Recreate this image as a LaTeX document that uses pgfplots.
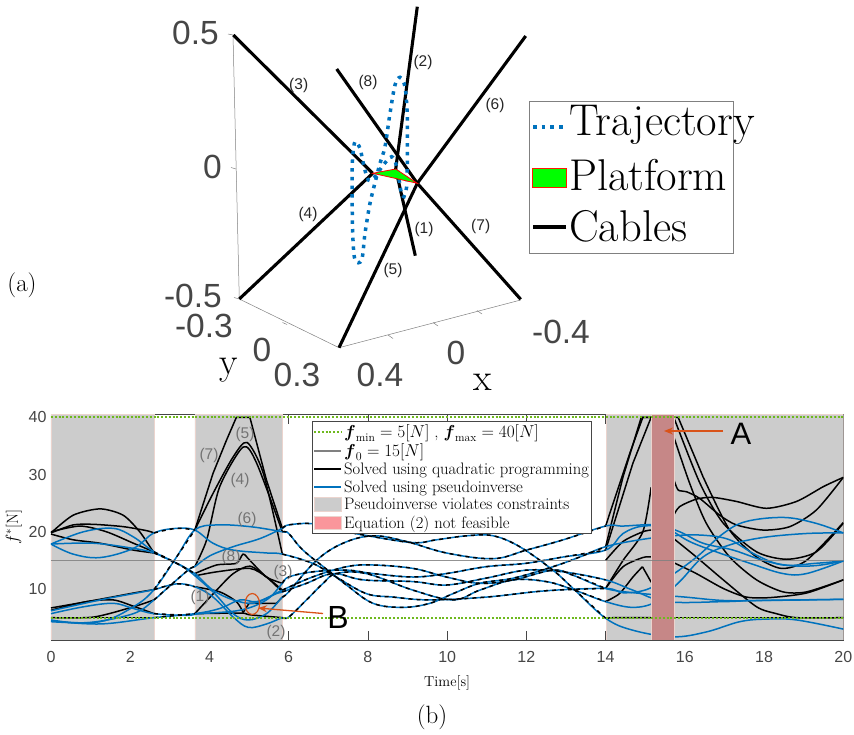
\documentclass[border=0pt]{standalone}
\usepackage{amsmath}
\usepackage{fontspec}
\usepackage{pgfplots}
\pgfplotsset{compat=1.18}
\usepackage{pgfplotstable}
\usetikzlibrary{arrows.meta}
\newfontfamily\arial{Liberation Sans}
\definecolor{mblue}{RGB}{0,114,189}
\definecolor{morange}{RGB}{217,83,25}
\definecolor{mgreen}{RGB}{110,185,30}
\definecolor{f0gray}{RGB}{128,128,128}
\definecolor{grayband}{RGB}{204,204,204}
\definecolor{redband}{RGB}{198,135,135}
\definecolor{redpatch}{RGB}{250,150,155}
\definecolor{axgray}{RGB}{70,70,70}
\definecolor{rim}{RGB}{235,212,206}

\pgfplotstableread{
t f
0 17.85
.56 16.1
1.24 15.5
2.08 17.1
2.6 19.8
3.17 20.6
3.63 20.3
4.09 18.0
4.6 16.8
5.44 16.3
5.84 16.1
6.6 14.5
7.2 12.1
7.96 9.2
8.63 8.6
9.56 8.1
11 8.6
12.5 9.7
14 10.1
14.44 9.35
15.03 9.9
15.6 12.1
16.3 15.6
16.97 19.7
17.55 21.8
18.5 22.5
19.3 21.5
20 19.8
}\blueA
\pgfplotstableread{
t f
0 17.85
.82 20
1.57 20.6
2.08 19.1
2.6 16.5
3.17 14.5
3.63 12.7
4.09 9.8
4.6 8.1
5.1 7.5
5.5 8.6
5.84 9.8
6.6 12.1
7.46 13.9
8.13 14.2
9.14 13.6
9.98 12.1
10.82 11
11.67 11.6
12.67 13.3
13.18 12.4
14 10.1
14.78 9.3
16 8.6
16.97 8
17.98 8
20 8.2
}\blueB
\pgfplotstableread{
t f
0 4.6
.9 4.1
2.08 5.7
2.6 8.1
2.83 9.5
3.46 13.3
3.63 13.9
4.01 15.8
4.6 17.4
5.27 18.8
5.84 20.6
6 21.2
6.6 21.4
7.33 20.2
8 19.3
9.14 18.1
9.73 18.6
10.5 19.3
11.16 19.3
11.83 17.4
12.67 13.3
13.18 10.1
14 4.9
14.69 2.8
15.7 1.65
16.54 2.5
17.39 4.3
18.06 4.75
18.82 4.6
20 3.0
}\blueC
\pgfplotstableread{
t f
0 4.3
1.24 4.3
2.08 6.9
2.6 9.9
3.17 15.6
3.63 20.3
4.18 21.2
5.02 20.9
5.84 20
6 19.7
6.36 16.8
7.04 13
7.46 10.7
8.13 7.5
8.89 6.8
9.56 7.5
10.15 9.2
10.82 11
11.67 11.9
12.67 13.9
13.35 15.6
14 17.4
14.86 18.6
15.7 19.3
16.46 19.4
17.13 18.6
17.81 15.9
18.48 14.2
19.32 14.5
20 14.9
}\blueD
\pgfplotstableread{
t f
0 6.2
1.24 8.1
2.08 9.2
2.6 9.9
3.17 10.9
3.63 10.4
4.09 8.6
4.6 5.1
4.98 3.3
5.44 3.9
5.84 5.0
6 5.1
6.45 8.1
6.87 11
7.2 12.7
7.96 12.7
9.14 9.8
10.15 8.1
10.82 9.8
11.67 11.6
12.5 11.3
13.18 9.9
14 7.8
14.69 6.8
15.28 7.8
15.87 11.3
16.46 15.6
17.13 17.7
17.97 19
19.07 19.7
20 19.8
}\blueE
\pgfplotstableread{
t f
0 17.85
1.07 18
2.08 17.1
2.6 16.3
3.17 14.5
3.46 13.3
4.09 9.5
4.6 5.7
4.98 4.6
5.44 5.7
5.84 8.6
6 9.5
6.7 15
7.37 18
8.13 19.3
8.97 18.3
9.98 16.3
11.16 15.3
12 16.8
12.93 18.6
14 21
14.44 21
15.28 21.2
15.87 20
16.46 18
17.22 16.8
17.98 15
18.65 14.1
19.32 14.1
20 14.9
}\blueF
\pgfplotstableread{
t f
0 5.7
.82 6.9
1.57 7.5
2.08 6.6
2.6 5.7
3.42 5.4
3.76 5.7
4.77 6.3
5.44 8.1
5.84 11
6 12.1
6.6 13
7.46 13.3
8.13 12.7
9.14 12.1
9.98 12.7
10.98 13.9
12 14.5
12.93 15.6
14 16.8
14.44 19.7
14.94 21
15.53 20.6
16.12 18.3
16.79 16.5
17.64 14.5
18.48 12.7
19.07 12.7
20 14.9
}\blueG
\pgfplotstableread{
t f
0 4.45
1.24 3.9
2.6 5
3.63 5.7
4.26 6.6
4.77 8.1
5.19 7.8
5.69 9.2
5.84 9.5
6.45 11
7.12 12.7
7.88 11.6
9.14 11.3
9.98 10.7
10.98 11.9
12 13.3
12.93 13
14 11.6
14.69 9.8
15.53 7.8
16.97 7.8
17.81 8
20 8.2
}\blueH

\pgfplotsset{blk/.style={black, line width=1.5pt, smooth, tension=.45, no markers},
  blks/.style={black, line width=1.5pt, no markers},
  blu/.style={mblue, line width=1.5pt, smooth, tension=.6, no markers},
  dsh/.style={blu, black, line width=1.5pt, dash pattern=on 4pt off 4pt},
  lgreen/.style={legend image code/.code={\draw[color=mgreen, line width=1.8pt, dash pattern=on 2pt off 1.8pt] (0,0) -- (27pt,0);}},
  lgray/.style={legend image code/.code={\draw[color=f0gray, line width=1.5pt] (0,0) -- (27pt,0);}},
  lblack/.style={legend image code/.code={\draw[color=black, line width=1.5pt] (0,0) -- (27pt,0);}},
  lblue/.style={legend image code/.code={\draw[color=mblue, line width=1.5pt] (0,0) -- (27pt,0);}},
  lbox/.style={legend image code/.code={\draw[##1] (0,-6.5pt) rectangle (27pt,7pt);}}}
\tikzset{boxl/.style={gray, line width=.5pt}, cable/.style={black, line width=3.1pt},
  bigt/.style={font=\arial\fontsize{33.5}{36}\selectfont, text=axgray, inner sep=0pt},
  cab/.style={font=\arial\fontsize{15.5}{18}\selectfont, text=black!85, inner sep=0pt},
  cabl/.style={font=\arial\fontsize{15.5}{18}\selectfont, text=black!55, inner sep=0pt},
  leg/.style={anchor=west, font=\fontsize{44.5}{48}\selectfont, inner sep=0pt}}

\begin{document}
\begin{tikzpicture}[x=1pt,y=1pt]
\path[use as bounding box] (0,0) rectangle (854pt,735pt);
% ----- lower panel -----
\begin{axis}[
  at={(51pt,95pt)}, anchor=south west,
  scale only axis, width=792.3pt, height=225.3pt,
  xmin=0, xmax=20, ymin=1.1, ymax=40.45,
  axis line style={axgray, line width=.9pt},
  every tick/.style={axgray, line width=.8pt},
  major tick length=9pt,
  tick align=inside,
  xtick={0,2,...,20}, ytick={10,20,30,40},
  tick label style={font=\arial\fontsize{16}{18}\selectfont, text=axgray},
  xticklabel style={yshift=-8pt},
  yticklabel style={xshift=-1pt},
  /pgf/number format/assume math mode=true,
  xlabel={Time[s]},
  xlabel style={font=\fontsize{14.5}{16}\selectfont, yshift=-6pt},
  ylabel={$f^{*}$[N]},
  ylabel style={font=\fontsize{16}{18}\selectfont, yshift=0pt},
  legend cell align=left,
  legend style={at={(.3294,.972)}, anchor=north west, fill=white, draw=axgray,
    line width=.8pt, font=\fontsize{16.6}{19}\selectfont, row sep=0.7pt,
    inner xsep=1pt, inner ysep=1pt},
  every axis plot/.append style={forget plot},
]
\addlegendimage{lgreen}
\addlegendentry{$\boldsymbol{f}_{\min}=5[N]$ , $\boldsymbol{f}_{\max}=40[N]$}
\addlegendimage{lgray}
\addlegendentry{$\boldsymbol{f}_{0}=15[N]$}
\addlegendimage{lblack}
\addlegendentry{Solved using quadratic programming}
\addlegendimage{lblue}
\addlegendentry{Solved using pseudoinverse}
\addlegendimage{lbox, fill=grayband, draw=rim}
\addlegendentry{Pseudoinverse violates constraints}
\addlegendimage{lbox, fill=redpatch, draw=rim}
\addlegendentry{Equation (2) not feasible}

% gray bands
\addplot[fill=grayband, draw=rim] coordinates {(0,1.1) (2.6,1.1) (2.6,40.45) (0,40.45)} \closedcycle;
\addplot[fill=grayband, draw=rim] coordinates {(3.63,1.1) (5.84,1.1) (5.84,40.45) (3.63,40.45)} \closedcycle;
\addplot[fill=grayband, draw=rim] coordinates {(14.02,1.1) (20,1.1) (20,40.45) (14.02,40.45)} \closedcycle;

% black, t in 0..2.6
\addplot[blk] coordinates {(0,19.8) (.56,22.9) (1.24,24) (1.82,22.9) (2.24,20) (2.6,16.3)};
\addplot[blk] coordinates {(0,19.8) (.56,21.2) (1.07,21.3) (1.82,20.9) (2.41,20.2) (2.6,19.8)};
\addplot[blk] coordinates {(0,20) (.73,21) (1.4,20) (2.08,18) (2.6,16.5)};
\addplot[blk] coordinates {(0,19.6) (.56,18.6) (1.24,18) (2.08,16.8) (2.6,16.3)};
\addplot[blk] coordinates {(0,6.7) (1.07,8) (2.08,9.3) (2.6,9.9)};
\addplot[blk] coordinates {(0,6.3) (.9,7.8) (1.57,8.1) (2.08,7.0) (2.6,5.7)};
\addplot[blk] coordinates {(0,5) (1.07,5.1) (2.08,6.9) (2.6,8.1)};
\addplot[blk] coordinates {(0,5) (1.3,5) (2.6,5)};
% black, t in 3.63..5.84
\addplot[blks] coordinates {(3.63,20.3) (4.09,30.2) (4.43,36) (4.68,40) (5.02,40) (5.44,29) (5.84,20.6)};
\addplot[blk] coordinates {(3.63,20.3) (4.09,26.7) (4.6,33.1) (4.95,35.6) (5.36,30.2) (5.84,16.1)};
\addplot[blk] coordinates {(3.63,13.9) (3.93,18.6) (4.26,27.9) (4.85,34.8) (5.19,32) (5.84,20)};
\addplot[blk] coordinates {(3.63,12.7) (4.18,14.2) (4.68,14.5) (4.85,16.1) (5.02,15) (5.44,12.1) (5.84,11)};
\addplot[blk] coordinates {(3.63,12.3) (4.18,13) (5.02,13.6) (5.44,12.1) (5.84,9.8)};
\addplot[blk] coordinates {(3.63,5.7) (4.18,9.8) (4.6,12.7) (5.02,14) (5.44,12.1) (5.84,9.5)};
\addplot[blk] coordinates {(3.63,10.4) (4.26,9.5) (4.68,7.8) (4.85,5.9)};
\addplot[blks] coordinates {(4.85,5.9) (5,7.5) (5.69,7.5) (5.84,8.6)};
\addplot[blk] coordinates {(3.63,5.7) (4.8,5.8) (5.02,5.5) (5.84,5)};
% black, t in 14..15.15
\addplot[blks] coordinates {(14,21) (14.61,33.7) (14.94,40) (15.15,40)};
\addplot[blks] coordinates {(14,17.4) (14.44,29.6) (14.9,40) (15.15,40)};
\addplot[blks] coordinates {(14,16.8) (14.69,32) (15.15,40)};
\addplot[blk] coordinates {(14,15) (14.44,18.3) (14.94,20) (15.15,20.3)};
\addplot[blk] coordinates {(14,10.1) (14.44,15) (14.94,20) (15.15,27.8)};
\addplot[blk] coordinates {(14,7.8) (14.35,9.2) (14.69,12.1) (14.93,13.9)};
\addplot[blks] coordinates {(14.93,13.9) (15.15,11.2)};
\addplot[blk] coordinates {(14,10.1) (14.44,13.9) (14.94,15.5) (15.15,15.6)};
\addplot[blks] coordinates {(14,4.9) (14.2,5) (15.15,5)};
% black, t in 15.72..20
\addplot[blk] coordinates {(15.72,40) (16.38,28.5) (16.97,21.5) (17.81,16.5) (18.57,15.2) (19.32,16.5) (20,21.5)};
\addplot[blks] coordinates {(15.72,40) (15.83,40) (16.46,29.6)};
\addplot[blk] coordinates {(16.46,29.6) (17.13,20.3) (17.81,15.6) (18.44,13.6) (19.07,15) (20,21.6)};
\addplot[blk] coordinates {(15.72,29.2) (15.83,27.3) (16.04,27) (16.38,25.8) (16.88,22.9) (17.3,21.2) (17.98,20.3) (18.65,20.9) (19.32,23.8) (20,29.5)};
\addplot[blk] coordinates {(15.72,22.9) (15.87,24.4) (16.29,25.7) (16.71,26) (17.3,25.3) (18.06,24.1) (18.82,25.3) (19.5,27.9) (20,29.5)};
\addplot[blk] coordinates {(15.72,36.6) (16.12,28.5) (16.54,21.5) (17.13,15.6) (17.81,11.6) (18.48,9.5) (19.07,9.5) (20,11.6)};
\addplot[blk] coordinates {(15.72,18.8) (16.29,15.6) (16.97,11.6) (17.81,6.9) (18.31,5.7) (18.82,5) (20,5)};
\addplot[blk] coordinates {(15.72,14.6) (16.29,12.7) (16.97,10.1) (17.55,8.6) (18.14,8.5) (19.07,9.3) (20,11.6)};
\addplot[blks] coordinates {(15.72,5) (20,5)};
% blue
\addplot[blu] table[x=t,y=f] {\blueA};
\addplot[blu] table[x=t,y=f] {\blueB};
\addplot[blu] table[x=t,y=f] {\blueC};
\addplot[blu] table[x=t,y=f] {\blueD};
\addplot[blu] table[x=t,y=f] {\blueE};
\addplot[blu] table[x=t,y=f] {\blueF};
\addplot[blu] table[x=t,y=f] {\blueG};
\addplot[blu] table[x=t,y=f] {\blueH};
% black dashes where both solutions coincide
\addplot[dsh, restrict x to domain=2.6:3.63] table[x=t,y=f] {\blueA};
\addplot[dsh, restrict x to domain=5.84:14] table[x=t,y=f] {\blueA};
\addplot[dsh, restrict x to domain=2.6:3.63] table[x=t,y=f] {\blueB};
\addplot[dsh, restrict x to domain=5.84:14] table[x=t,y=f] {\blueB};
\addplot[dsh, restrict x to domain=2.6:3.63] table[x=t,y=f] {\blueC};
\addplot[dsh, restrict x to domain=5.84:14] table[x=t,y=f] {\blueC};
\addplot[dsh, restrict x to domain=2.6:3.63] table[x=t,y=f] {\blueD};
\addplot[dsh, restrict x to domain=5.84:14] table[x=t,y=f] {\blueD};
\addplot[dsh, restrict x to domain=2.6:3.63] table[x=t,y=f] {\blueE};
\addplot[dsh, restrict x to domain=5.84:14] table[x=t,y=f] {\blueE};
\addplot[dsh, restrict x to domain=2.6:3.63] table[x=t,y=f] {\blueF};
\addplot[dsh, restrict x to domain=5.84:14] table[x=t,y=f] {\blueF};
\addplot[dsh, restrict x to domain=2.6:3.63] table[x=t,y=f] {\blueG};
\addplot[dsh, restrict x to domain=5.84:14] table[x=t,y=f] {\blueG};
\addplot[dsh, restrict x to domain=2.6:3.63] table[x=t,y=f] {\blueH};
\addplot[dsh, restrict x to domain=5.84:14] table[x=t,y=f] {\blueH};
% infeasible band
\addplot[fill=redband, draw=rim] coordinates {(15.15,1.1) (15.72,1.1) (15.72,40.45) (15.15,40.45)} \closedcycle;
% limits
\addplot[blu, no marks, sharp plot, color=mgreen, line width=1.8pt, dash pattern=on 2pt off 1.8pt] coordinates {(0,5) (20,5)};
\addplot[blu, no marks, sharp plot, color=mgreen, line width=1.8pt, dash pattern=on 2pt off 1.8pt] coordinates {(0,40) (20,40)};
\addplot[blu, no marks, sharp plot, color=f0gray, opacity=.85, line width=1.5pt] coordinates {(0,15) (20,15)};
\end{axis}

% ----- upper panel and annotations, in picture pixels -----
\begin{axis}[
  at={(0pt,0pt)}, anchor=south west,
  scale only axis, width=854pt, height=735pt,
  xmin=0, xmax=854, ymin=0, ymax=735, y dir=reverse,
  hide axis, clip=false,
]
\addplot[boxl] coordinates {(233,35) (239.3,299) (339,347.7) (520.7,300)};
\addplot[boxl] coordinates {(228,34) (233,35)};
\addplot[boxl] coordinates {(231,167.5) (236,169)};
\addplot[boxl] coordinates {(234,297.5) (239.3,299)};
\addplot[boxl] coordinates {(282.5,322.5) (287,324.5)};
\addplot[boxl] coordinates {(388,335) (393,338.5)};
\addplot[boxl] coordinates {(433,322.5) (438,326)};
\addplot[boxl] coordinates {(477,310.5) (482,314)};
\addplot[cable] coordinates {(233.3,35) (372.7,173.3)};
\addplot[cable] coordinates {(239.3,299) (372.7,173.3)};
\addplot[cable] coordinates {(336.7,69) (417.3,183.3)};
\addplot[cable] coordinates {(520.7,299.3) (417.3,183.3)};
\addplot[cable] coordinates {(525.7,36) (417.3,183.3)};
\addplot[cable] coordinates {(339,347.7) (417.3,183.3)};
\addplot[cable] coordinates {(417.3,6.7) (395.7,169)};
\addplot[cable] coordinates {(415.3,255.7) (395.7,169)};
\addplot[mblue, line width=3.5pt, smooth, tension=.5, dash pattern=on 3.5pt off 5.2pt] coordinates {
(403.3,198.3) (406.7,186.7) (407.3,160) (407.3,116.7) (405,86.7) (400,77.3) (395,85) (390,113.3)
(385,146.7) (380,163.3) (375.7,180) (370,203.3) (365,233.3) (361.7,260) (355,260) (352.7,233.3)
(352,183.3) (352.7,156.7) (355,141.7) (360,148.3) (363.3,163.3) (368.3,180) (375,176.7) (383.3,165)
(391.7,156.7) (396.7,166.7) (401.7,196.7)};
\addplot[fill=green, draw=red, line width=.8pt] coordinates {(372.7,173.3) (395.7,169) (417.3,183.3)} --cycle;
% legend (a)
\addplot[fill=white, draw=gray, line width=.5pt] coordinates {(529,101.7) (733,101.7) (733,253) (529,253)} --cycle;
\addplot[mblue, line width=3.5pt, dash pattern=on 3.5pt off 5.2pt] coordinates {(533,127) (566,127)};
\addplot[fill=green, draw=red!80!orange, line width=.8pt] coordinates {(532,168) (566,168) (566,187.5) (532,187.5)} --cycle;
\addplot[black, line width=3.1pt] coordinates {(533,227) (566,227)};
\node[leg] at (axis cs:569,125) {Trajectory};
\node[leg] at (axis cs:569,175) {Platform};
\node[leg] at (axis cs:569,226) {Cables};
% big tick labels
\node[bigt, anchor=east] at (axis cs:219,33) {0.5};
\node[bigt, anchor=east] at (axis cs:222,167) {0};
\node[bigt, anchor=east] at (axis cs:222,296) {-0.5};
\node[bigt, anchor=east] at (axis cs:233,326) {-0.3};
\node[bigt] at (axis cs:262,350) {0};
\node[bigt] at (axis cs:297,375) {0.3};
\node[bigt] at (axis cs:380,375) {0.4};
\node[bigt] at (axis cs:456,353) {0};
\node[bigt] at (axis cs:561,332) {-0.4};
\node[font=\fontsize{38}{40}\selectfont] at (axis cs:229,370) {y};
\node[font=\fontsize{38}{40}\selectfont] at (axis cs:483,382) {x};
% cable labels, upper
\node[cab] at (axis cs:298.7,85) {(3)};
\node[cab] at (axis cs:423,62) {(2)};
\node[cab] at (axis cs:368,82) {(8)};
\node[cab] at (axis cs:495,105) {(6)};
\node[cab] at (axis cs:308,214) {(4)};
\node[cab] at (axis cs:424,229) {(1)};
\node[cab] at (axis cs:480.7,226.7) {(7)};
\node[cab] at (axis cs:393,270) {(5)};
% cable labels, lower
\node[cabl] at (axis cs:245,434) {(5)};
\node[cabl] at (axis cs:209,455) {(7)};
\node[cabl] at (axis cs:240,480) {(4)};
\node[cabl] at (axis cs:247,519) {(6)};
\node[cabl] at (axis cs:231,557) {(8)};
\node[cabl] at (axis cs:283,572) {(3)};
\node[cabl] at (axis cs:200,597) {(1)};
\node[cabl] at (axis cs:276,632) {(2)};
% panel letters
\node[font=\fontsize{25}{28}\selectfont] at (axis cs:22,285) {(a)};
\node[font=\fontsize{25}{28}\selectfont] at (axis cs:432,717) {(b)};
\node[font=\arial\fontsize{31}{34}\selectfont] at (axis cs:741,434) {A};
\node[font=\arial\fontsize{32}{34}\selectfont] at (axis cs:338,617) {B};
% arrows
\draw[morange, line width=1.3pt, -{Stealth[length=9pt,width=7pt]}] (axis cs:723,431) -- (axis cs:664,431);
\draw[morange, line width=1.3pt, -{Stealth[length=9pt,width=7pt]}] (axis cs:323,613.5) -- (axis cs:258,608);
\draw[morange, line width=1.2pt] (axis cs:252.3,604) ellipse [x radius=7.3pt, y radius=10.5pt];
\end{axis}
\end{tikzpicture}
\end{document}
